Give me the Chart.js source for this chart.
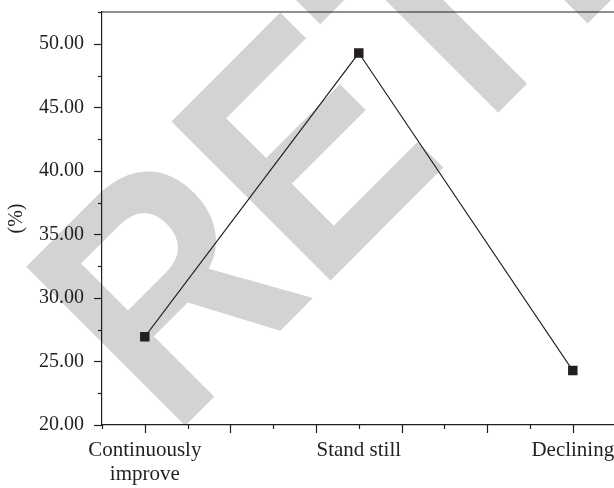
<!DOCTYPE html>
<html>
<head>
<meta charset="utf-8">
<script src="https://cdn.jsdelivr.net/npm/chart.js@4/dist/chart.umd.min.js"></script>
<style>
  html, body { margin: 0; padding: 0; background: #ffffff; overflow: hidden; }
  #wrap { width: 640px; height: 488px; }
</style>
</head>
<body>
<div id="wrap"><canvas id="c" width="640" height="488"></canvas></div>
<script>
// ---- data ----
const categories = [["Continuously", "improve"], "Stand still", "Declining"];
const categoryPositions = [1, 2, 3];
const shareValues = [26.94, 49.27, 24.28];
const yAxisTitle = "(%)";
const watermarkText = "RETRACTED";

const INK = '#231f20';
const SERIF = '"Liberation Serif", "Times New Roman", serif';

const watermarkPlugin = {
  id: 'watermark',
  beforeDraw(chart) {
    const ctx = chart.ctx;
    ctx.save();
    ctx.fillStyle = 'rgb(211,211,211)';
    ctx.translate(171.8, 439.2);
    ctx.rotate(-Math.PI / 4);
    ctx.scale(0.87, 1);
    ctx.font = 'bold 327px "Liberation Sans", Arial, sans-serif';
    ctx.textBaseline = 'alphabetic';
    ctx.textAlign = 'left';
    ctx.fillText(watermarkText, 0, 0);
    ctx.restore();
  }
};

const frameTicksPlugin = {
  id: 'frameTicks',
  afterDraw(chart) {
    const ctx = chart.ctx;
    const area = chart.chartArea;
    const xs = chart.scales.x, ys = chart.scales.y;
    ctx.save();
    ctx.strokeStyle = INK;
    ctx.lineWidth = 1.2;
    ctx.beginPath();
    ctx.moveTo(area.left, area.top);
    ctx.lineTo(area.right, area.top);
    ctx.lineTo(area.right, area.bottom);
    ctx.stroke();
    ys.ticks.forEach(t => {
      const py = Math.round(ys.getPixelForValue(t.value)) + 0.5;
      const major = Math.abs(t.value / 5 - Math.round(t.value / 5)) < 1e-6;
      const len = major ? 8 : 4;
      ctx.beginPath();
      ctx.moveTo(area.left, py);
      ctx.lineTo(area.left - len, py);
      ctx.stroke();
    });
    xs.ticks.forEach(t => {
      const px = Math.round(xs.getPixelForValue(t.value)) + 0.5;
      const k = (t.value - 1) / 0.4;
      const major = Math.abs(k - Math.round(k)) < 1e-6;
      const len = major ? 8 : 4;
      ctx.beginPath();
      ctx.moveTo(px, area.bottom);
      ctx.lineTo(px, area.bottom + len);
      ctx.stroke();
    });
    ctx.restore();
  }
};

new Chart(document.getElementById('c'), {
  type: 'line',
  data: {
    datasets: [{
      data: categoryPositions.map((p, i) => ({ x: p, y: shareValues[i] })),
      borderColor: INK,
      borderWidth: 1.1,
      pointStyle: 'rect',
      pointRadius: 6.7,
      pointBackgroundColor: INK,
      pointBorderWidth: 0,
      tension: 0,
      fill: false
    }]
  },
  options: {
    responsive: false,
    animation: false,
    layout: { padding: { left: 0, right: 24.4, top: 12, bottom: 0 } },
    plugins: { legend: { display: false }, tooltip: { enabled: false } },
    scales: {
      x: {
        type: 'linear',
        min: 0.8,
        max: 3.2,
        afterFit(s) { s.height = 63; s.paddingLeft = 0; s.paddingRight = 0; },
        border: { display: true, color: INK, width: 1.2 },
        grid: { drawOnChartArea: false, drawTicks: true, tickLength: 8, tickColor: 'rgba(0,0,0,0)' },
        ticks: {
          stepSize: 0.2,
          autoSkip: false,
          maxRotation: 0,
          padding: 5,
          color: INK,
          font: { family: SERIF, size: 21, lineHeight: 1.15 },
          callback(v) {
            const i = categoryPositions.findIndex(p => Math.abs(p - v) < 1e-6);
            return i >= 0 ? categories[i] : '';
          }
        }
      },
      y: {
        min: 20,
        max: 52.5,
        afterFit(s) { s.width = 102; s.paddingTop = 0; s.paddingBottom = 0; },
        border: { display: true, color: INK, width: 1.2 },
        grid: { drawOnChartArea: false, drawTicks: true, tickLength: 8, tickColor: 'rgba(0,0,0,0)' },
        title: {
          display: true,
          text: yAxisTitle,
          color: INK,
          font: { family: SERIF, size: 20 },
          padding: { top: 5, bottom: 0 }
        },
        ticks: {
          stepSize: 2.5,
          padding: 10,
          color: INK,
          font: { family: SERIF, size: 20 },
          callback(v) {
            return Math.abs(v / 5 - Math.round(v / 5)) < 1e-6 ? v.toFixed(2) : '';
          }
        }
      }
    }
  },
  plugins: [watermarkPlugin, frameTicksPlugin]
});
</script>
</body>
</html>
